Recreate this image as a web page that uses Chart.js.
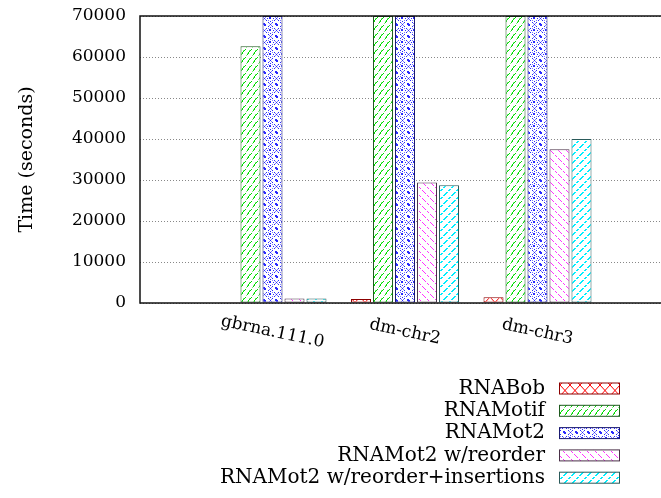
<!DOCTYPE html>
<html>
<head>
<meta charset="utf-8">
<script src="https://cdn.jsdelivr.net/npm/chart.js@4"></script>
<style>
  html, body { margin: 0; padding: 0; background: #fff; overflow: hidden; }
  #wrap { width: 672px; height: 498px; }
</style>
</head>
<body>
<div id="wrap"><canvas id="chart" width="672" height="498"></canvas></div>
<script>
// ---- data ----
const categories = ['gbrna.111.0', 'dm-chr2', 'dm-chr3'];
const seriesNames = ['RNABob', 'RNAMotif', 'RNAMot2', 'RNAMot2 w/reorder', 'RNAMot2 w/reorder+insertions'];
const rnabob = [50, 1000, 1400];
const rnamotif = [62600, 70000, 70000];
const rnamot2 = [70000, 70000, 70000];
const rnamot2Reorder = [1100, 29400, 37500];
const rnamot2Insertions = [1100, 28700, 40000];
const yTicks = [0, 10000, 20000, 30000, 40000, 50000, 60000, 70000];

const FONT = "'DejaVu Serif', serif";

// ---- hatch patterns ----
function tile(w, h, draw) {
    const c = document.createElement('canvas');
    c.width = w; c.height = h;
    const g = c.getContext('2d');
    g.fillStyle = '#fff';
    g.fillRect(0, 0, w, h);
    draw(g);
    return document.getElementById('chart').getContext('2d').createPattern(c, 'repeat');
}
function px(g, pts) { pts.forEach(p => g.fillRect(p[0], p[1], 1, 1)); }

const patRed = tile(10, 11, g => {
    g.strokeStyle = '#ff0000';
    g.lineWidth = 1;
    g.beginPath();
    g.moveTo(0, 0); g.lineTo(10, 11);
    g.moveTo(10, 0); g.lineTo(0, 11);
    g.stroke();
});
const patGreen = tile(6, 8, g => {
    g.fillStyle = '#00dd00';
    px(g, [[1, 6], [2, 5], [2, 4], [3, 3], [4, 2], [5, 1]]);
    g.fillStyle = '#80ee80';
    px(g, [[1, 5], [3, 2], [0, 7]]);
});
const patBlue = tile(12, 12, g => {
    g.fillStyle = '#2a2aff';
    // diamond lattice of dots
    px(g, [[6, 0], [8, 2], [10, 4], [12, 6], [10, 8], [8, 10], [6, 12], [4, 10], [2, 8], [0, 6], [2, 4], [4, 2]]);
    // cross / ring motif in each cell
    g.fillRect(5, 5, 2, 2);
    g.fillRect(0, 0, 2, 2);
    px(g, [[6, 3], [9, 6], [6, 9], [3, 6], [11, 11], [11, 0], [0, 11]]);
    g.fillStyle = '#7f7fff';
    px(g, [[7, 1], [11, 5], [5, 11], [1, 7], [5, 1], [11, 7], [7, 11], [1, 5], [4, 4], [8, 8], [8, 4], [4, 8]]);
});
const patMagenta = tile(8, 8, g => {
    g.fillStyle = '#ff33ff';
    px(g, [[0, 0], [1, 1], [3, 3], [4, 4], [6, 6], [7, 7]]);
});
const patCyan = tile(8, 8, g => {
    g.fillStyle = '#00eeff';
    px(g, [[7, 0], [6, 1], [5, 2], [4, 3], [2, 5], [1, 6]]);
    px(g, [[6, 0], [5, 1], [4, 2], [3, 3], [1, 5], [0, 6]]);
});

const fills = [patRed, patGreen, patBlue, patMagenta, patCyan];
const borders = ['#8b0000', '#1f5a1f', '#1a1a70', '#4a3048', '#2a5a5a'];
const values = [rnabob, rnamotif, rnamot2, rnamot2Reorder, rnamot2Insertions];

// blank slots at both ends so the groups sit like the gnuplot x range
const labels = [''].concat(categories, ['']);

const datasets = seriesNames.map((name, i) => ({
    label: name,
    data: [null].concat(values[i], [null]),
    backgroundColor: fills[i],
    borderColor: borders[i],
    borderWidth: 1,
    borderSkipped: false,
    categoryPercentage: 0.83,
    barPercentage: 0.91
}));

// ---- frame, rotated category labels, legend ----
const decorations = {
    id: 'decorations',
    afterDatasetsDraw(chart) {
        const a = chart.chartArea;
        const ctx = chart.ctx;
        ctx.save();
        ctx.strokeStyle = '#111';
        ctx.lineWidth = 1.5;
        ctx.strokeRect(a.left, a.top, a.right - a.left, a.bottom - a.top);
        ctx.restore();
    },
    afterDraw(chart) {
        const ctx = chart.ctx;
        const x = chart.scales.x;
        ctx.save();
        ctx.fillStyle = '#000';
        ctx.font = '17px ' + FONT;
        ctx.textAlign = 'center';
        ctx.textBaseline = 'middle';
        categories.forEach((c, i) => {
            const px = x.getPixelForValue(i + 1);
            ctx.save();
            ctx.translate(px, 332);
            ctx.rotate(12 * Math.PI / 180);
            ctx.fillText(c, 0, 0);
            ctx.restore();
        });

        // legend: text right-aligned, swatch on the right
        ctx.font = '20px ' + FONT;
        ctx.textAlign = 'right';
        chart.data.datasets.forEach((ds, i) => {
            const cy = 388.5 + i * 22.3;
            ctx.fillStyle = '#000';
            ctx.fillText(ds.label, 545, cy);
            ctx.fillStyle = ds.backgroundColor;
            ctx.fillRect(559, cy - 5.5, 60, 11);
            ctx.strokeStyle = ds.borderColor;
            ctx.lineWidth = 1;
            ctx.strokeRect(559.5, cy - 5.5, 60, 11);
        });
        ctx.restore();
    }
};

new Chart(document.getElementById('chart'), {
    type: 'bar',
    data: { labels: labels, datasets: datasets },
    options: {
        responsive: false,
        animation: false,
        layout: { padding: { left: 0, top: 16, right: 2, bottom: 0 } },
        plugins: {
            legend: { display: false },
            tooltip: { enabled: false }
        },
        scales: {
            x: {
                offset: false,
                grid: { display: false },
                border: { display: false },
                ticks: { display: false },
                afterFit: s => { s.height = 195; s.paddingLeft = 0; s.paddingRight = 0; }
            },
            y: {
                min: 0,
                max: 70000,
                afterBuildTicks: s => { s.ticks = yTicks.map(v => ({ value: v })); },
                afterFit: s => { s.width = 140; s.paddingTop = 0; s.paddingBottom = 0; },
                ticks: {
                    padding: 14,
                    color: '#000',
                    font: { family: FONT, size: 17 },
                    callback: v => String(v)
                },
                grid: {
                    color: '#888',
                    drawTicks: false
                },
                border: { display: false, dash: [1, 2] },
                title: {
                    display: true,
                    text: 'Time (seconds)',
                    color: '#000',
                    font: { family: FONT, size: 19 },
                    padding: { top: 16, bottom: 0 }
                }
            }
        }
    },
    plugins: [decorations]
});
</script>
</body>
</html>
